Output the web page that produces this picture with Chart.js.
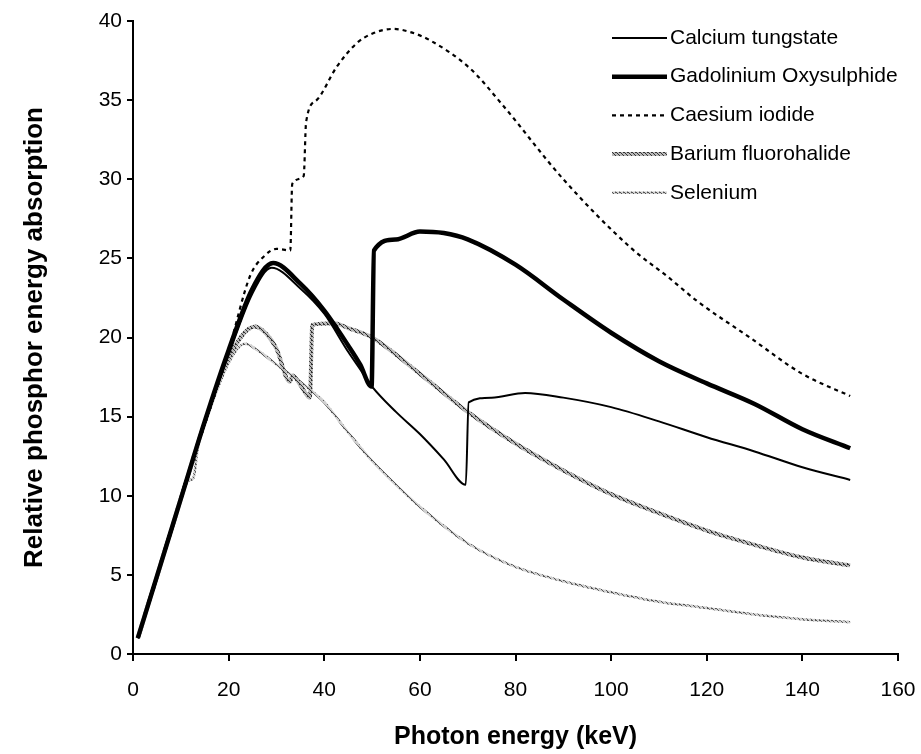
<!DOCTYPE html>
<html>
<head>
<meta charset="utf-8">
<script src="https://cdn.jsdelivr.net/npm/chart.js@4.4.1/dist/chart.umd.min.js"></script>
<style>
  html, body { margin: 0; padding: 0; background: #fff; }
  #wrap { width: 921px; height: 754px; }
</style>
</head>
<body>
<div id="wrap"><canvas id="absorptionChart" width="921" height="754"></canvas></div>
<script>
// phosphor absorption curves

var xTicks = [0, 20, 40, 60, 80, 100, 120, 140, 160];
var yTicks = [0, 5, 10, 15, 20, 25, 30, 35, 40];

var seriesNames = ["Calcium tungstate", "Gadolinium Oxysulphide", "Caesium iodide", "Barium fluorohalide", "Selenium"];

var energyCaW = [1, 5, 10, 15, 20, 25, 29, 35, 40, 45, 47.5, 50, 55, 60, 65, 69.6, 70.2, 75, 82, 90, 100, 110, 120, 130, 140, 150];
var absorbCaW = [1, 4.9, 9.8, 14.6, 18.9, 22.8, 24.4, 23.1, 21.5, 19.1, 18.0, 16.9, 15.3, 13.9, 12.3, 10.7, 15.9, 16.2, 16.5, 16.2, 15.6, 14.7, 13.7, 12.8, 11.8, 11.0];

var energyGd = [1, 5, 10, 15, 20, 25, 29.3, 35, 40, 45, 47.5, 49.9, 50.4, 55, 60, 65, 70, 80, 90, 100, 110, 120, 130, 140, 150];
var absorbGd = [1, 4.9, 9.8, 14.7, 19.2, 23.1, 24.7, 23.4, 21.7, 19.5, 18.3, 16.9, 25.5, 26.2, 26.7, 26.6, 26.2, 24.6, 22.4, 20.3, 18.5, 17.1, 15.8, 14.2, 13.0];

var energyCsI = [1, 5, 10, 15, 20, 24.5, 27.3, 30, 32.9, 33.3, 35.7, 36.2, 38.4, 42.6, 46.8, 50, 54.4, 58, 62, 70.5, 77, 90, 104, 112, 118, 129, 140, 150];
var absorbCsI = [1, 4.9, 9.8, 14.6, 19.2, 23.9, 25.1, 25.6, 25.5, 29.7, 30.2, 33.6, 35.0, 37.1, 38.6, 39.2, 39.5, 39.3, 38.8, 37.0, 34.8, 30.0, 25.7, 23.8, 22.3, 20.0, 17.7, 16.3];

var energyBaF = [1, 5, 10, 15, 20, 25.5, 28, 30, 32.8, 33.4, 35, 37, 37.5, 42, 45, 50, 60, 70, 80, 90, 100, 110, 120, 130, 140, 150];
var absorbBaF = [1, 4.9, 9.8, 14.6, 18.7, 20.7, 20.2, 19.3, 17.2, 17.6, 17.0, 16.2, 20.8, 20.9, 20.6, 20.0, 17.7, 15.3, 13.3, 11.6, 10.1, 8.9, 7.8, 6.9, 6.1, 5.6];

var energySe = [1, 5, 10, 11, 12.6, 13.6, 15, 20, 23.4, 26, 30, 35, 40, 45, 50, 56, 60, 70, 80, 90, 100, 110, 120, 130, 140, 150];
var absorbSe = [1, 4.9, 9.8, 10.9, 11.1, 13.1, 14.5, 18.4, 19.6, 19.2, 18.3, 17.2, 15.9, 14.0, 12.2, 10.4, 9.3, 7.0, 5.5, 4.6, 3.9, 3.3, 2.9, 2.5, 2.2, 2.0];

function toPoints(xs, ys) {
  var pts = [];
  for (var i = 0; i < xs.length; i++) pts.push({x: xs[i], y: ys[i]});
  return pts;
}

// hatched grey strokes, like the printed figure
function hatch(dark, light) {
  var c = document.createElement("canvas");
  c.width = 4; c.height = 4;
  var g = c.getContext("2d");
  g.fillStyle = light;
  g.fillRect(0, 0, 4, 4);
  g.fillStyle = dark;
  for (var i = 0; i < 4; i++) g.fillRect(i, i, 1, 1);
  g.fillRect(3, 0, 1, 1);
  return g.createPattern(c, "repeat");
}

var ctx = document.getElementById("absorptionChart").getContext("2d");
var bariumStroke = hatch("#333", "#b8b8b8");
var seleniumStroke = hatch("#555", "#cfcfcf");

var legendBox = {
  id: "legendBox",
  afterDraw: function (chart) {
    var c = chart.ctx;
    c.save();
    c.font = "21px 'Liberation Sans', Arial, sans-serif";
    c.textBaseline = "middle";
    chart.data.datasets.forEach(function (ds, i) {
      var y = 38 + i * 38.7;
      c.strokeStyle = ds.borderColor;
      c.lineWidth = ds.borderWidth;
      c.setLineDash(ds.borderDash || []);
      c.beginPath();
      c.moveTo(612, y);
      c.lineTo(667, y);
      c.stroke();
      c.setLineDash([]);
      c.fillStyle = "#000";
      c.fillText(ds.label, 670, y);
    });
    c.restore();
  }
};

new Chart(ctx, {
  type: "line",
  data: {
    datasets: [
      {label: seriesNames[0], data: toPoints(energyCaW, absorbCaW), borderColor: "#000", borderWidth: 2},
      {label: seriesNames[1], data: toPoints(energyGd, absorbGd), borderColor: "#000", borderWidth: 4.5},
      {label: seriesNames[2], data: toPoints(energyCsI, absorbCsI), borderColor: "#000", borderWidth: 2.2, borderDash: [4, 4]},
      {label: seriesNames[3], data: toPoints(energyBaF, absorbBaF), borderColor: bariumStroke, borderWidth: 4},
      {label: seriesNames[4], data: toPoints(energySe, absorbSe), borderColor: seleniumStroke, borderWidth: 2.5}
    ]
  },
  options: {
    responsive: false,
    animation: false,
    layout: {padding: {top: 21, right: 23, left: 0, bottom: 0}},
    elements: {
      point: {radius: 0},
      line: {cubicInterpolationMode: "monotone", fill: false}
    },
    plugins: {
      legend: {display: false},
      tooltip: {enabled: false}
    },
    scales: {
      x: {
        type: "linear",
        min: 0,
        max: 160,
        afterBuildTicks: function (s) { s.ticks = xTicks.map(function (v) { return {value: v}; }); },
        afterFit: function (s) {
          s.height = 100;
          // keep the label padding from pulling the plot edge in
          s.paddingLeft = 0;
          s.paddingRight = 0;
        },
        border: {color: "#000", width: 2},
        grid: {drawOnChartArea: false, drawTicks: true, tickLength: 7, color: "#000", lineWidth: 2},
        ticks: {color: "#000", padding: 17, font: {family: "'Liberation Sans', Arial", size: 21}},
        title: {display: true, text: "Photon energy (keV)", color: "#000", padding: {top: 0, bottom: 2},
          font: {family: "'Liberation Sans', Arial", size: 25, weight: "bold"}}
      },
      y: {
        type: "linear",
        min: 0,
        max: 40,
        afterBuildTicks: function (s) { s.ticks = yTicks.map(function (v) { return {value: v}; }); },
        afterFit: function (s) { s.width = 133; },
        border: {color: "#000", width: 2},
        grid: {drawOnChartArea: false, drawTicks: true, tickLength: 6, color: "#000", lineWidth: 2},
        ticks: {color: "#000", padding: 5, font: {family: "'Liberation Sans', Arial", size: 21}},
        title: {display: true, text: "Relative phosphor energy absorption", color: "#000", padding: {top: 19, bottom: 0},
          font: {family: "'Liberation Sans', Arial", size: 26, weight: "bold"}}
      }
    }
  },
  plugins: [legendBox]
});
</script>
</body>
</html>
